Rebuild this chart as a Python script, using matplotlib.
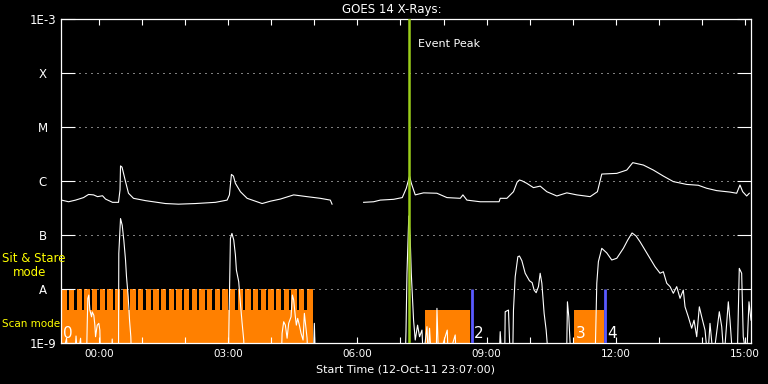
import numpy as np
import matplotlib
matplotlib.use("Agg")
import matplotlib.pyplot as plt
import matplotlib.transforms as mtransforms
from matplotlib.ticker import FixedLocator, FuncFormatter, NullLocator

plt.rcParams['font.family'] = 'DejaVu Sans'

# time axis in hours after 00:00 13-Oct-11 (plot starts 12-Oct-11 23:07:00)
t_start = -53.0 / 60
t_end = 15.14

# GOES 14 long channel (1-8 A), W/m^2 ; nan = data gap
long_t = [-0.870, -0.708, -0.545, -0.360, -0.244, -0.128, -0.035, 0.081, 0.151, 0.313,
          0.452, 0.487, 0.499, 0.534, 0.615, 0.684, 0.800, 1.079, 1.543, 1.845,
          2.239, 2.703, 2.974, 3.028, 3.074, 3.121, 3.167, 3.283, 3.439, 3.787,
          3.979, 4.211, 4.520, 4.831, 5.139, 5.371, 5.411, 5.780, 6.144, 6.376,
          6.531, 6.840, 7.042, 7.135, 7.211, 7.251, 7.343, 7.536, 7.847, 8.079,
          8.388, 8.450, 8.543, 8.852, 9.290, 9.316, 9.471, 9.624, 9.710, 9.763,
          9.826, 9.935, 10.088, 10.244, 10.399, 10.631, 10.863, 11.095, 11.404, 11.573,
          11.675, 12.023, 12.255, 12.394, 12.640, 12.872, 13.104, 13.336, 13.647, 13.916,
          14.111, 14.343, 14.652, 14.807, 14.884, 14.947, 15.040, 15.100]
long_f = [4.4e-7, 4.1e-7, 4.4e-7, 4.9e-7, 5.6e-7, 5.5e-7, 5.1e-7, 5.3e-7, 4.6e-7, 4.0e-7,
          4.0e-7, 6.8e-7, 1.9e-6, 1.8e-6, 9.7e-7, 5.9e-7, 4.75e-7, 4.3e-7, 3.8e-7, 3.7e-7,
          3.8e-7, 4.0e-7, 4.4e-7, 5.5e-7, 1.32e-6, 1.23e-6, 9.0e-7, 6.3e-7, 4.75e-7, 3.8e-7,
          4.2e-7, 4.6e-7, 5.5e-7, 5.1e-7, 4.75e-7, 4.4e-7, 3.7e-7, np.nan, 4.0e-7, 4.1e-7,
          4.4e-7, 4.55e-7, 4.9e-7, 7.3e-7, 1.23e-6, 9.1e-7, 5.5e-7, 6.0e-7, 5.9e-7, 4.9e-7,
          4.75e-7, 5.5e-7, 4.4e-7, 4.1e-7, 4.1e-7, 4.75e-7, 4.75e-7, 6.3e-7, 9.5e-7, 1.04e-6,
          1.0e-6, 9.0e-7, 7.5e-7, 8.0e-7, 6.3e-7, 5.25e-7, 6.0e-7, 5.5e-7, 5.1e-7, 6.3e-7,
          1.34e-6, 1.38e-6, 1.59e-6, 2.18e-6, 1.97e-6, 1.59e-6, 1.23e-6, 9.7e-7, 8.6e-7, 8.3e-7,
          7.3e-7, 6.6e-7, 6.2e-7, 5.9e-7, 8.4e-7, 6.3e-7, 5.25e-7, 5.9e-7]

# GOES 14 short channel (0.5-4 A), W/m^2 ; 5e-10 = below plot floor
short_t = [-0.870, -0.754, -0.731, -0.568, -0.534, -0.499, -0.429, -0.406, -0.290, -0.274,
           -0.260, -0.237, -0.213, -0.174, -0.158, -0.121, -0.097, -0.081, -0.042, -0.005,
           0.019, 0.035, 0.290, 0.306, 0.325, 0.452, 0.459, 0.499, 0.538, 0.575,
           0.615, 0.638, 0.677, 0.708, 0.738, 0.754,
           3.005, 3.012, 3.051, 3.086, 3.128, 3.167, 3.190, 3.244, 3.283, 3.323, 3.360, 3.376,
           4.234, 4.251, 4.288, 4.327, 4.367, 4.404, 4.459, 4.490, 4.520, 4.559,
           4.582, 4.613, 4.652, 4.691, 4.738, 4.768, 4.798, 4.831, 4.849,
           4.977, 5.000, 5.023,
           7.111, 7.128, 7.151, 7.193, 7.227, 7.251, 7.304, 7.343, 7.397, 7.443,
           7.499, 7.529, 7.615, 7.645, 7.675, 7.715, 7.831, 7.847, 7.884, 8.086,
           8.109, 8.271, 8.294,
           9.292, 9.316, 9.355, 9.420, 9.432, 9.508, 9.548, 9.606, 9.624, 9.664,
           9.726, 9.763, 9.819, 9.896, 9.995, 10.058, 10.104, 10.151, 10.204, 10.244,
           10.283, 10.336, 10.383, 10.436,
           10.858, 10.877, 10.909, 10.956,
           11.520, 11.531, 11.559, 11.596, 11.675, 11.791, 11.907, 12.023, 12.176, 12.278,
           12.378, 12.471, 12.564, 12.680, 12.796, 12.912, 13.028, 13.104, 13.183, 13.260,
           13.336, 13.415, 13.492, 13.568, 13.608, 13.684, 13.763, 13.817, 13.879, 13.940,
           13.995, 14.072, 14.135, 14.188, 14.265, 14.404, 14.460, 14.513, 14.613, 14.652,
           14.715, 14.821, 14.868, 14.923, 14.960, 15.039, 15.093, 15.140]
short_f = [5e-10, 1.2e-9, 5e-10, 5e-10, 1.32e-9, 5e-10, 1.2e-9, 5e-10, 5e-10, 2.27e-9,
           6.6e-9, 7.6e-9, 4.0e-9, 3.0e-9, 3.7e-9, 3.2e-9, 2.1e-9, 1.28e-9, 2.1e-9, 2.27e-9,
           1.7e-9, 5e-10, 5e-10, 1.16e-9, 5e-10, 5e-10, 4.5e-8, 2.0e-7, 1.5e-7, 8.0e-8,
           3.4e-8, 1.66e-8, 7.1e-9, 2.6e-9, 1.28e-9, 5e-10,
           5e-10, 1.28e-9, 8.6e-8, 1.06e-7, 8.0e-8, 4.2e-8, 2.2e-8, 1.34e-8, 5.3e-9, 2.27e-9, 1.11e-9, 5e-10,
           5e-10, 1.48e-9, 2.43e-9, 2.1e-9, 1.2e-9, 2.27e-9, 3.0e-9, 7.6e-9, 6.15e-9, 3.0e-9,
           2.1e-9, 2.81e-9, 2.1e-9, 1.48e-9, 1.11e-9, 3.48e-9, 2.1e-9, 1.2e-9, 5e-10,
           5e-10, 2.27e-9, 5e-10,
           5e-10, 1.59e-9, 1.93e-8, 2.23e-7, 8.0e-8, 1.93e-8, 2.6e-9, 1.11e-9, 2.1e-9, 1.28e-9,
           1.7e-9, 5e-10, 1.97e-9, 5e-10, 1.84e-9, 5e-10, 5e-10, 4.31e-9, 5e-10, 1.7e-9,
           5e-10, 1.38e-9, 5e-10,
           5e-10, 1.59e-9, 5e-10, 5e-10, 3.73e-9, 4.0e-9, 5e-10, 5e-10, 4.0e-9, 1.66e-8,
           3.92e-8, 4.03e-8, 3.3e-8, 1.93e-8, 1.4e-8, 1.29e-8, 9.4e-9, 8.4e-9, 1.09e-8, 1.93e-8,
           1.26e-8, 3.48e-9, 1.7e-9, 5e-10,
           5e-10, 5.7e-9, 3.0e-9, 5e-10,
           5e-10, 1.28e-9, 1.26e-8, 3.16e-8, 5.6e-8, 4.6e-8, 3.4e-8, 3.66e-8, 5.6e-8, 8.0e-8,
           1.08e-7, 9.5e-8, 7.4e-8, 5.2e-8, 3.66e-8, 2.55e-8, 1.93e-8, 2.06e-8, 1.26e-8, 1.09e-8,
           8.2e-9, 1.09e-8, 6.6e-9, 9.4e-9, 4.6e-9, 3.0e-9, 1.84e-9, 2.6e-9, 1.28e-9, 4.6e-9,
           3.0e-9, 1.7e-9, 5e-10, 2.27e-9, 5e-10, 3.73e-9, 1.97e-9, 5e-10, 5.7e-9, 2.6e-9,
           5e-10, 5e-10, 2.38e-8, 1.93e-8, 1.28e-9, 5e-10, 5.7e-9, 2.6e-9]

event_peak = 7.19

# observing mode: sit & stare run with short scan gaps, then scan rasters
sit_level = 1e-8
scan_level = 4e-9
scan_gaps = [-0.754, -0.576, -0.398, -0.220, -0.042, 0.136, 0.314, 0.492, 0.670, 0.848,
             1.026, 1.204, 1.382, 1.560, 1.738, 1.916, 2.094, 2.272, 2.450, 2.628,
             2.806, 2.984, 3.162, 3.340, 3.518, 3.696, 3.874, 4.052, 4.230, 4.408,
             4.586, 4.764]
gap_len = 0.06
sit_end = 4.96
scan_blocks = [(7.575, 8.62), (11.03, 11.73)]
raster_ends = [8.65, 11.76]
raster_labels = ['0', '2', '3', '4']
raster_label_t = [t_start, 8.65, 11.03, 11.76]

ytick_vals = [1e-9, 1e-8, 1e-7, 1e-6, 1e-5, 1e-4, 1e-3]
ytick_labels = ['1E-9', 'A', 'B', 'C', 'M', 'X', '1E-3']

ORANGE = '#ff8000'
GREEN = '#9acd1a'
BLUE = '#5a5aff'

fig = plt.figure(figsize=(7.68, 3.84), dpi=100, facecolor='black')
ax = fig.add_axes([61 / 768, 41.5 / 384, 690 / 768, 323.2 / 384], facecolor='black')
ax.set_yscale('log')
ax.set_xlim(t_start, t_end)
ax.set_ylim(1e-9, 1e-3)

# mode bars
edges = [t_start]
levels = [sit_level]
for g in scan_gaps:
    edges += [g, g + gap_len]
    levels += [scan_level, sit_level]
edges.append(sit_end)
levels.append(sit_level)
ax.fill_between(edges, 1e-9, levels, step='post', color=ORANGE, lw=0, zorder=1)
for a, b in scan_blocks:
    ax.fill_between([a, b], 1e-9, scan_level, color=ORANGE, lw=0, zorder=1)
ax.vlines(raster_ends, 1e-9, sit_level, color=BLUE, lw=2, zorder=4)

trans = mtransforms.blended_transform_factory(ax.transData, ax.transAxes)
for t, s in zip(raster_label_t, raster_labels):
    ax.annotate(s, xy=(t, 0.029), xycoords=trans, xytext=(1.5, 0), textcoords='offset points',
                ha='left', va='center', color='white', fontsize=11, zorder=6)

# grid
for yv in ytick_vals[1:-1]:
    ax.axhline(yv, color='white', lw=0.72, ls=(0, (1, 5)), zorder=2)

ax.plot(long_t, long_f, color='white', lw=0.8, zorder=3)
ax.plot(short_t, short_f, color='white', lw=0.8, zorder=3)

ax.axvline(event_peak, color=GREEN, lw=1.8, zorder=5)
ax.annotate('Event Peak', xy=(event_peak, 0.924), xycoords=trans, xytext=(7, 0),
            textcoords='offset points', ha='left', va='center', color='white', fontsize=8)

# axes styling
for sp in ax.spines.values():
    sp.set_color('white')
    sp.set_linewidth(0.9)
ax.set_yticks(ytick_vals, labels=ytick_labels, ha='center')
ax.yaxis.set_minor_locator(NullLocator())
ax.tick_params(axis='y', which='major', direction='in', length=10, width=0.8,
               left=True, right=True, colors='white', labelsize=8.5, pad=13)
ax.xaxis.set_major_locator(FixedLocator([0, 3, 6, 9, 12, 15]))
ax.xaxis.set_minor_locator(FixedLocator(list(range(0, 16))))
ax.xaxis.set_major_formatter(FuncFormatter(lambda v, p: '%02d:00' % int(round(v))))
ax.tick_params(axis='x', which='both', direction='in', length=4.3, width=0.8,
               top=True, bottom=True, colors='white', labelsize=7.5, pad=4.5)

fig.text(392 / 768, 1 - 9.5 / 384, 'GOES 14 X-Rays:', ha='center', va='center',
         color='white', fontsize=8.5)
fig.text(405 / 768, 1 - 369 / 384, 'Start Time (12-Oct-11 23:07:00)', ha='center',
         va='center', color='white', fontsize=8)
fig.text(2 / 768, 1 - 259 / 384, 'Sit & Stare', ha='left', va='center', color='yellow', fontsize=8.5)
fig.text(13 / 768, 1 - 272 / 384, 'mode', ha='left', va='center', color='yellow', fontsize=8.5)
fig.text(2 / 768, 1 - 324 / 384, 'Scan mode', ha='left', va='center', color='yellow', fontsize=7.5)

fig.savefig('out.png', dpi=100, facecolor='black')
